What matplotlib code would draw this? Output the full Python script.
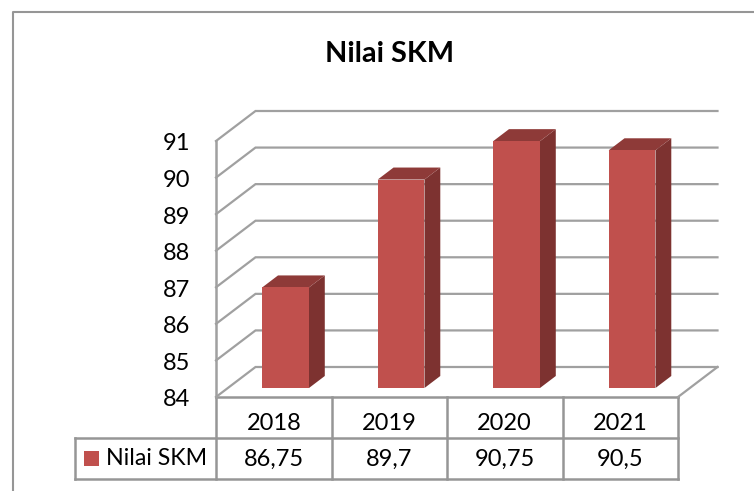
import matplotlib
matplotlib.use("Agg")
import matplotlib.pyplot as plt
from matplotlib.patches import Polygon, Rectangle

plt.rcParams["font.family"] = ["Lato", "DejaVu Sans"]

years = ["2018", "2019", "2020", "2021"]
values = [86.75, 89.7, 90.75, 90.5]
value_labels = ["86,75", "89,7", "90,75", "90,5"]
ticks = [84, 85, 86, 87, 88, 89, 90, 91]
series_name = "Nilai SKM"

W, H = 754, 491
FRONT = "#C0504D"
SIDE = "#7D3230"
TOP = "#8E3A38"
GRID = "#A0A0A0"
BORDER = "#969696"

fig = plt.figure(figsize=(W / 100, H / 100), dpi=100)

# page layer in pixels, for the frame and the table rules
pg = fig.add_axes([0, 0, 1, 1])
pg.set_xlim(0, W)
pg.set_ylim(H, 0)
pg.axis("off")
pg.plot([13, 13, W], [H, 12, 12], color=BORDER, lw=1.5)

# chart axes: front wall of the 3d box
left, right, y84, y91 = 216, 678, 397, 141
ax = fig.add_axes([left / W, 1 - y84 / H, (right - left) / W, (y84 - y91) / H])
ax.set_xlim(-0.5, 3.5)
ax.set_ylim(84, 91)
ax.axis("off")
ax.patch.set_alpha(0)

dx = 39.5 / ((right - left) / 4)   # depth in category units
dy = 30 / ((y84 - y91) / 7)        # depth in value units
x0, x1 = -0.5, 3.5

for t in ticks:
    ax.plot([x0, x0 + dx, x1 + dx], [t, t + dy, t + dy], color=GRID, lw=1.6,
            clip_on=False, solid_joinstyle="miter", zorder=1)
ax.plot([x1, x1 + dx], [84, 84 + dy], color=GRID, lw=1.6, clip_on=False, zorder=1)
ax.plot([x0, x0], [84, 91], color=GRID, lw=1.8, clip_on=False, zorder=1)

# bars
bw = 0.405
d1, d2 = 0.30, 0.70
for i, v in enumerate(values):
    xa = i - bw / 2 + d1 * dx
    xb = i + bw / 2 + d1 * dx
    ya = 84 + d1 * dy
    yb = v + d1 * dy
    ox = (d2 - d1) * dx
    oy = (d2 - d1) * dy
    ax.add_patch(Polygon([(xb, ya), (xb + ox, ya + oy), (xb + ox, yb + oy), (xb, yb)],
                         fc=SIDE, ec="none", clip_on=False, zorder=3))
    ax.add_patch(Polygon([(xa, yb), (xb, yb), (xb + ox, yb + oy), (xa + ox, yb + oy)],
                         fc=TOP, ec="none", clip_on=False, zorder=3))
    ax.add_patch(Rectangle((xa, ya), xb - xa, yb - ya, fc=FRONT, ec="none",
                           clip_on=False, zorder=4))

# y tick labels
for t in ticks:
    ax.annotate(str(t), (x0, t), xytext=(-26, -3), textcoords="offset pixels",
                ha="right", va="center", fontsize=17, color="black",
                annotation_clip=False)

# data table
row0, row1, row2 = 397, 438, 479
cols = [left + (right - left) * k / 4 for k in range(5)]
pg.plot([left, right], [row0, row0], color=BORDER, lw=1.8, zorder=5)
pg.plot([75, right], [row1, row1], color=BORDER, lw=1.8, zorder=5)
pg.plot([75, right], [row2, row2], color=BORDER, lw=1.8, zorder=5)
pg.plot([75, 75], [row1, row2], color=BORDER, lw=1.8)
for c in cols:
    pg.plot([c, c], [row0, row2], color=BORDER, lw=1.8)
for i in range(4):
    mid = (cols[i] + cols[i + 1]) / 2
    pg.text(mid, (row0 + row1) / 2 + 6.5, years[i], ha="center", va="center", fontsize=17)
    pg.text(mid, (row1 + row2) / 2 + 0.5, value_labels[i], ha="center", va="center", fontsize=17)

pg.add_patch(Rectangle((84, 451), 15, 15, fc=FRONT, ec="none"))
pg.text(106, 458.5, series_name, ha="left", va="center", fontsize=16.7)

pg.text(390, 54, "Nilai SKM", ha="center", va="center", fontsize=20.8, fontweight="bold")

fig.savefig("out.png", dpi=100, facecolor="white")
